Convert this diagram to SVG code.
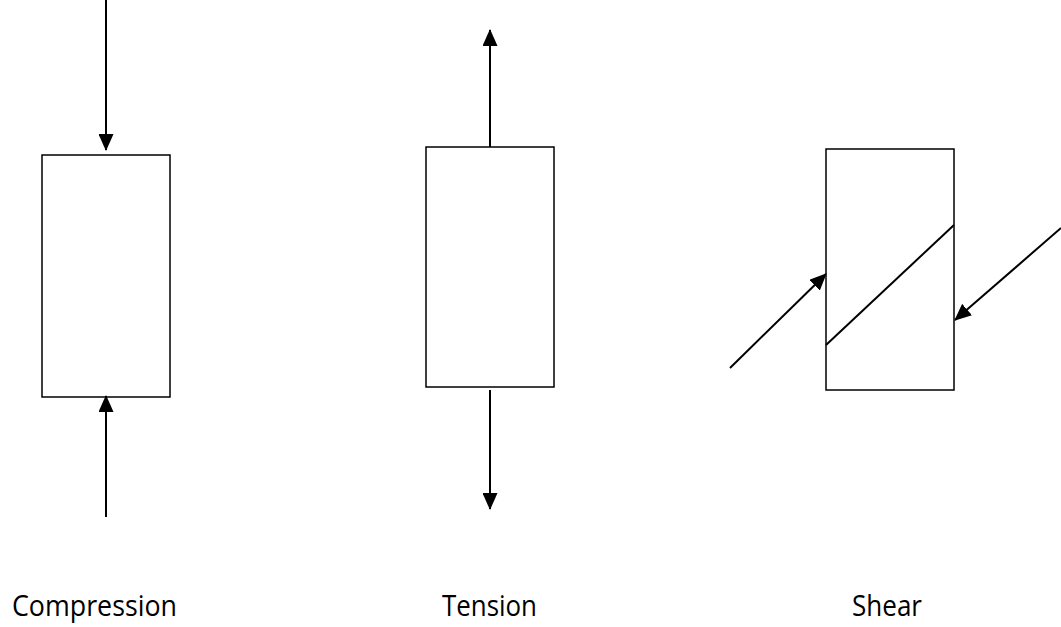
<svg xmlns="http://www.w3.org/2000/svg" width="1061" height="627" viewBox="0 0 1061 627">
<style>
.box{fill:#fff;stroke:#000;stroke-width:1.5}
.arr{stroke:#000;stroke-width:2;fill:none;marker-end:url(#ah)}
.ln{stroke:#000;stroke-width:2;fill:none}
.lbl{font-family:"Open Sans","Liberation Sans",sans-serif;font-size:29px;fill:#000}
</style>
<defs>
<marker id="ah" markerUnits="userSpaceOnUse" markerWidth="17" markerHeight="15" viewBox="0 0 17 15" refX="16" refY="7.5" orient="auto">
<path d="M0,0 L17,7.5 L0,15 z" fill="#000"/>
</marker>
</defs>
<rect width="1061" height="627" fill="#fff"/>
<g id="compression">
<rect class="box" x="42" y="155" width="128" height="242"/>
<text class="lbl" x="12" y="616" textLength="165" lengthAdjust="spacingAndGlyphs">Compression</text>
</g>
<g id="tension">
<rect class="box" x="426" y="147" width="128" height="240"/>
<text class="lbl" x="442" y="616" textLength="95" lengthAdjust="spacingAndGlyphs">Tension</text>
</g>
<g id="shear">
<rect class="box" x="826" y="149" width="128" height="241"/>
<line class="ln" x1="826" y1="345" x2="954" y2="225"/>
<text class="lbl" x="852" y="616" textLength="70" lengthAdjust="spacingAndGlyphs">Shear</text>
</g>
<g id="connectors">
<line class="arr" x1="106" y1="0" x2="106" y2="150"/>
<line class="arr" x1="106" y1="517" x2="106" y2="396"/>
<line class="arr" x1="490" y1="147" x2="490" y2="30"/>
<line class="arr" x1="490" y1="390" x2="490" y2="509"/>
<line class="arr" x1="730" y1="368" x2="826" y2="274"/>
<line class="arr" x1="1061" y1="228" x2="955" y2="320"/>
</g>
</svg>
